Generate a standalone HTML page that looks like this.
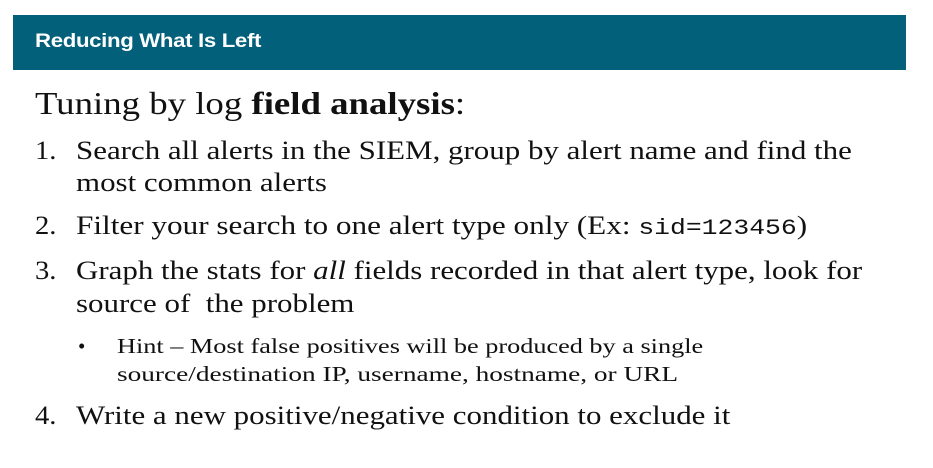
<!DOCTYPE html>
<html><head><meta charset="utf-8"><style>
body{margin:0;width:933px;height:468px;background:#fff;position:relative;overflow:hidden;font-family:"Liberation Serif",serif;color:#111}
.bar{position:absolute;left:13px;top:15px;width:893px;height:55px;background:#02607a}
.bar span{position:absolute;left:22px;top:16px;font-family:"Liberation Sans",sans-serif;font-weight:bold;font-size:19px;color:#fff;letter-spacing:-0.3px;transform:scaleX(1.17);transform-origin:0 0;white-space:nowrap}
.t{position:absolute;white-space:nowrap;transform-origin:0 0}
.h{left:35px;top:85px;font-size:32px;transform:scaleX(1.15)}
.n{left:35px;font-size:26px;transform:scaleX(1.1)}
.x{left:76px;font-size:26px;transform:scaleX(1.19)}
.b{font-size:21px;transform:scaleX(1.25)}
code{font-family:"Liberation Mono",monospace;font-size:22px}
</style></head><body>
<div class="bar"><span>Reducing What Is Left</span></div>
<div class="t h">Tuning by log <b>field analysis</b>:</div>
<div class="t n" style="top:136px">1.</div>
<div class="t x" style="top:136px">Search all alerts in the SIEM, group by alert name and find the</div>
<div class="t x" style="top:168px">most common alerts</div>
<div class="t n" style="top:211px">2.</div>
<div class="t x" style="top:211px;transform:scaleX(1.2)">Filter your search to one alert type only (Ex: <code>sid=123456</code>)</div>
<div class="t n" style="top:256px">3.</div>
<div class="t x" style="top:256px">Graph the stats for <i>all</i> fields recorded in that alert type, look for</div>
<div class="t x" style="top:289px">source of &nbsp;the problem</div>
<div class="t" style="left:78px;top:334px;font-size:21px">•</div>
<div class="t b" style="left:117px;top:334px">Hint – Most false positives will be produced by a single</div>
<div class="t b" style="left:117px;top:362px;transform:scaleX(1.3)">source/destination IP, username, hostname, or URL</div>
<div class="t n" style="top:401px">4.</div>
<div class="t x" style="top:401px;transform:scaleX(1.19)">Write a new positive/negative condition to exclude it</div>
</body></html>
